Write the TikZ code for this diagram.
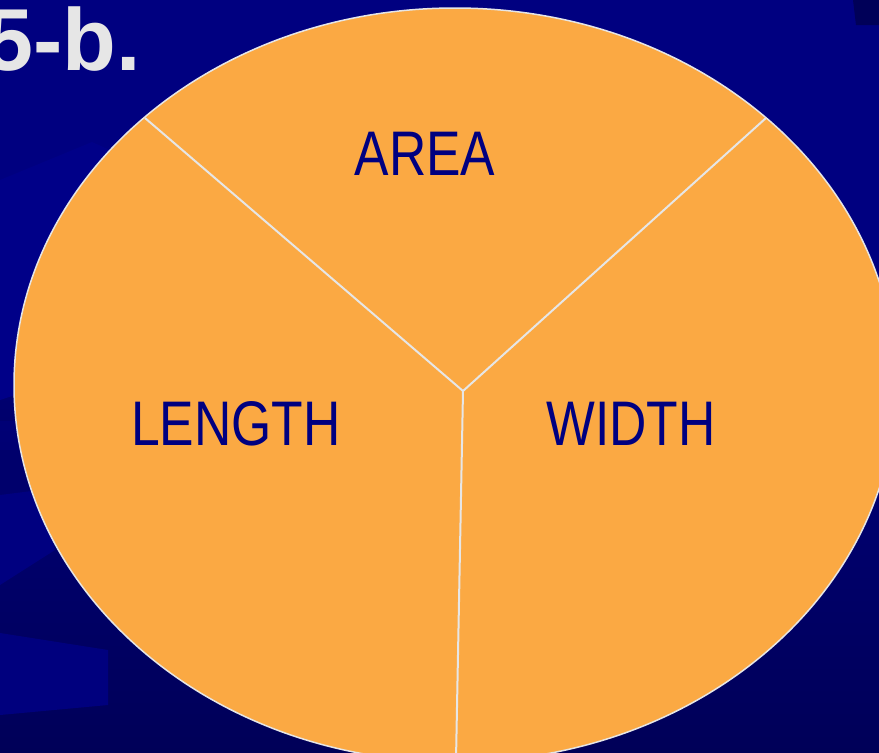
\documentclass[tikz,border=0pt]{standalone}
\usepackage{fontspec}
\setmainfont{Liberation Sans}
\definecolor{navy}{HTML}{000080}
\definecolor{deepnavy}{HTML}{000058}
\definecolor{midnavy}{HTML}{00006C}
\definecolor{litenavy}{HTML}{000088}
\definecolor{pieorange}{HTML}{FBA943}
\definecolor{rimgray}{HTML}{E6E6E6}
\begin{document}
\begin{tikzpicture}[x=1pt,y=-1pt,
  label/.style={text=navy,font=\fontsize{63}{63}\selectfont,xscale=0.82,anchor=base,inner sep=0pt},
  divider/.style={draw=rimgray,line width=2pt}]
\useasboundingbox (0,0) rectangle (879,753);
% background
\fill[navy] (0,0) rectangle (879,753);
\shade[top color=navy,bottom color=deepnavy,middle color=midnavy] (0,300) rectangle (879,753);
\fill[deepnavy] (0,0) rectangle (879,300);
\fill[navy] (0,0) rectangle (879,260);
\shade[top color=navy,bottom color=midnavy] (0,260) rectangle (879,420);
\fill[deepnavy] (853,0) -- (879,0) -- (879,25) -- (856,25) -- cycle;
\fill[litenavy] (0,180) -- (92,142) -- (110,150) -- (60,380) -- (0,400) -- cycle;
\fill[midnavy] (0,450) -- (40,450) -- (40,490) -- (0,495) -- cycle;
\fill[navy] (0,585) -- (55,550) -- (40,490) -- (0,495) -- cycle;
\fill[litenavy!80!deepnavy] (0,633) -- (108,650) -- (108,705) -- (0,715) -- cycle;
% pie
\filldraw[fill=pieorange,draw=rimgray,line width=1.5pt] (455,385) ellipse [x radius=441, y radius=377];
\coordinate (c) at (463,391);
\coordinate (tl) at (145,118);
\coordinate (tr) at (766,118);
\coordinate (bt) at (456,760);
\draw[divider] (tl) -- (c) -- (tr);
\draw[divider] (c) -- (bt);
% labels
\node[label] (area) at (425,175) {AREA};
\node[label] (length) at (236,445) {LENGTH};
\node[label] (width) at (631,445) {WIDTH};
\node[text=rimgray,font=\bfseries\fontsize{88}{88}\selectfont,anchor=base east,inner sep=0pt] (title) at (141,70) {5-b.};
\end{tikzpicture}
\end{document}
